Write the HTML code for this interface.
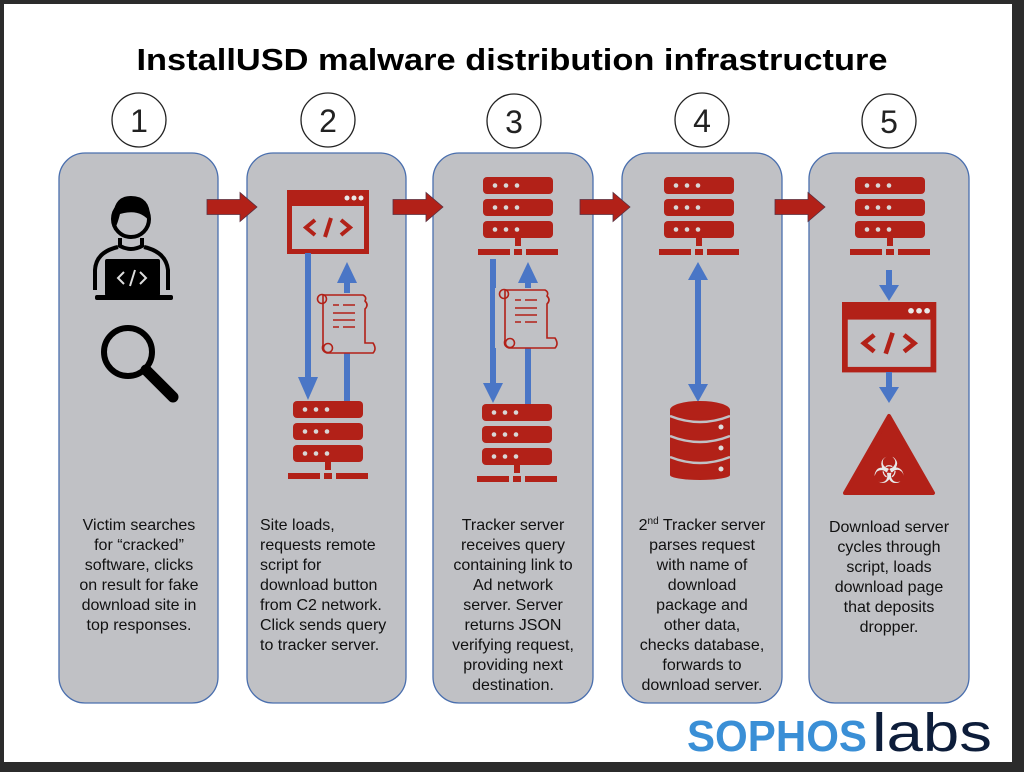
<!DOCTYPE html>
<html><head><meta charset="utf-8"><style>
html,body{margin:0;padding:0;background:#2b2b2b}
svg{display:block}
text{font-family:"Liberation Sans",sans-serif}
</style></head><body>
<svg width="1024" height="772" viewBox="0 0 1024 772" xmlns="http://www.w3.org/2000/svg">
<defs>
<g id="srv">
  <rect x="5" y="0" width="70" height="17" rx="4" fill="#b22118"/>
  <rect x="5" y="22" width="70" height="17" rx="4" fill="#b22118"/>
  <rect x="5" y="44" width="70" height="17" rx="4" fill="#b22118"/>
  <g fill="#d8d8d8"><circle cx="17" cy="8.5" r="2.3"/><circle cx="28" cy="8.5" r="2.3"/><circle cx="39" cy="8.5" r="2.3"/>
  <circle cx="17" cy="30.5" r="2.3"/><circle cx="28" cy="30.5" r="2.3"/><circle cx="39" cy="30.5" r="2.3"/>
  <circle cx="17" cy="52.5" r="2.3"/><circle cx="28" cy="52.5" r="2.3"/><circle cx="39" cy="52.5" r="2.3"/></g>
  <rect x="37" y="61" width="6" height="8" fill="#b22118"/>
  <rect x="0" y="72" width="32" height="6" fill="#b22118"/>
  <rect x="36" y="72" width="8" height="6" fill="#b22118"/>
  <rect x="48" y="72" width="32" height="6" fill="#b22118"/>
</g>
<g id="brw">
  <rect x="0" y="0" width="82" height="64" fill="#b22118"/>
  <rect x="5" y="16" width="72" height="43" fill="#c0c1c5"/>
  <g fill="#e8e8e8"><circle cx="60" cy="8" r="2.5"/><circle cx="67" cy="8" r="2.5"/><circle cx="74" cy="8" r="2.5"/></g>
  <g stroke="#b22118" stroke-width="4" fill="none"><polyline points="28,30 19,37.5 28,45"/><polyline points="54,30 63,37.5 54,45"/><line x1="44" y1="28" x2="38" y2="47"/></g>
</g>
<g id="scr" fill="none" stroke="#b22118" stroke-width="1.6">
  <path d="M8,2 H48 Q52,4 50,8 Q54,12 50,16 V50 H58 Q62,56 58,60 H12 Q6,58 8,52 Z"/>
  <circle cx="7" cy="6" r="4.5"/>
  <circle cx="13" cy="55" r="4.5"/>
  <path d="M18,12 H24 M28,12 H40 M18,20 H40 M18,27 H40 M18,34 H24 M28,34 H40"/>
</g>
<g id="arr">
  <path d="M0,-7.5 H33 V-14.5 L50,0 L33,14.5 V7.5 H0 Z" fill="#b22118" stroke="#5a3040" stroke-width="0.8"/>
</g>
</defs>
<rect x="4" y="4" width="1008" height="758" fill="#ffffff"/>
<text x="512" y="70" text-anchor="middle" font-size="31" font-weight="bold" textLength="751" lengthAdjust="spacingAndGlyphs" fill="#000">InstallUSD malware distribution infrastructure</text>
<g fill="none" stroke="#222" stroke-width="1.3">
  <circle cx="139" cy="120" r="27"/><circle cx="328" cy="120" r="27"/><circle cx="514" cy="121" r="27"/><circle cx="702" cy="120" r="27"/><circle cx="889" cy="121" r="27"/>
</g>
<g font-size="32" fill="#222" text-anchor="middle">
<text x="139" y="132">1</text><text x="328" y="132">2</text><text x="514" y="133">3</text><text x="702" y="132">4</text><text x="889" y="133">5</text>
</g>
<g fill="#c0c1c5" stroke="#4a6fae" stroke-width="1.3">
  <rect x="59" y="153" width="159" height="550" rx="26"/>
  <rect x="247" y="153" width="159" height="550" rx="26"/>
  <rect x="433" y="153" width="160" height="550" rx="26"/>
  <rect x="622" y="153" width="160" height="550" rx="26"/>
  <rect x="809" y="153" width="160" height="550" rx="26"/>
</g>
<use href="#arr" x="207" y="207"/><use href="#arr" x="393" y="207"/><use href="#arr" x="580" y="207"/><use href="#arr" x="775" y="207"/>

<!-- panel 1 -->
<path d="M113,222 Q112,196 131,196 Q152,196 150,222 Q140,208 120,214 Q117,226 114,230 Z" fill="#000"/>
<circle cx="131" cy="219" r="18" fill="none" stroke="#000" stroke-width="4"/>
<path d="M120,238 V246 Q131,252 142,246 V238" fill="none" stroke="#000" stroke-width="4"/>
<path d="M95,290 V270 Q96,252 118,247 M144,247 Q166,252 168,270 V290" fill="none" stroke="#000" stroke-width="4"/>
<rect x="105" y="259" width="55" height="37" rx="2" fill="#000"/>
<rect x="95" y="295" width="78" height="5" rx="2" fill="#000"/>
<g stroke="#ddd" stroke-width="2" fill="none"><polyline points="124,272 118,278 124,284"/><polyline points="140,272 146,278 140,284"/><line x1="135" y1="270" x2="130" y2="286"/></g>
<circle cx="128" cy="352" r="24" fill="none" stroke="#000" stroke-width="6"/>
<line x1="146" y1="370" x2="173" y2="397" stroke="#000" stroke-width="11" stroke-linecap="round"/>

<!-- panel 2 -->
<use href="#brw" x="287" y="190"/>
<rect x="305" y="253" width="6" height="125" fill="#4a76c6"/>
<path d="M298,377 H318 L308,400 Z" fill="#4a76c6"/>
<rect x="344" y="282" width="6" height="122" fill="#4a76c6"/>
<path d="M337,283 H357 L347,262 Z" fill="#4a76c6"/>
<rect x="313" y="293" width="62" height="60" fill="#c0c1c5"/>
<use href="#scr" x="315" y="293"/>
<use href="#srv" x="288" y="401"/>

<!-- panel 3 -->
<use href="#srv" x="478" y="177"/>
<rect x="490" y="259" width="6" height="125" fill="#4a76c6"/>
<path d="M483,383 H503 L493,403 Z" fill="#4a76c6"/>
<rect x="525" y="282" width="6" height="122" fill="#4a76c6"/>
<path d="M518,283 H538 L528,262 Z" fill="#4a76c6"/>
<rect x="495" y="288" width="62" height="60" fill="#c0c1c5"/>
<use href="#scr" x="497" y="288"/>
<use href="#srv" x="477" y="404"/>

<!-- panel 4 -->
<use href="#srv" x="659" y="177"/>
<rect x="695" y="278" width="6" height="108" fill="#4a76c6"/>
<path d="M688,280 H708 L698,262 Z" fill="#4a76c6"/>
<path d="M688,384 H708 L698,402 Z" fill="#4a76c6"/>
<rect x="670" y="410" width="60" height="65" fill="#b22118"/>
<ellipse cx="700" cy="410" rx="30" ry="9" fill="#b22118"/>
<ellipse cx="700" cy="475" rx="30" ry="5" fill="#b22118"/>
<g fill="none" stroke="#c0c1c5" stroke-width="2.5"><path d="M670,416 Q700,428 730,416"/><path d="M670,436 Q700,448 730,436"/><path d="M670,457 Q700,469 730,457"/></g>
<g fill="#ddd"><circle cx="721" cy="427" r="2.5"/><circle cx="721" cy="448" r="2.5"/><circle cx="721" cy="469" r="2.5"/></g>

<!-- panel 5 -->
<use href="#srv" x="850" y="177"/>
<rect x="886" y="270" width="6" height="16" fill="#4a76c6"/>
<path d="M879,285 H899 L889,301 Z" fill="#4a76c6"/>
<g transform="translate(842,302) scale(1.15,1.1)"><use href="#brw"/></g>
<rect x="886" y="372" width="6" height="16" fill="#4a76c6"/>
<path d="M879,387 H899 L889,403 Z" fill="#4a76c6"/>
<path d="M889,416 L933,493 H845 Z" fill="#b22118" stroke="#b22118" stroke-width="4" stroke-linejoin="round"/>
<text x="889" y="483" text-anchor="middle" font-size="36" fill="#e8e8e8" font-family="DejaVu Sans">☣</text>

<!-- texts -->
<g font-size="16" fill="#111" text-anchor="middle">
<text x="139" y="530">Victim searches</text><text x="139" y="550">for “cracked”</text><text x="139" y="570">software, clicks</text><text x="139" y="590">on result for fake</text><text x="139" y="610">download site in</text><text x="139" y="630">top responses.</text>
<text x="513" y="530">Tracker server</text><text x="513" y="550">receives query</text><text x="513" y="570">containing link to</text><text x="513" y="590">Ad network</text><text x="513" y="610">server. Server</text><text x="513" y="630">returns JSON</text><text x="513" y="650">verifying request,</text><text x="513" y="670">providing next</text><text x="513" y="690">destination.</text>
<text x="702" y="530">2<tspan font-size="10" dy="-6">nd</tspan><tspan dy="6"> Tracker server</tspan></text><text x="702" y="550">parses request</text><text x="702" y="570">with name of</text><text x="702" y="590">download</text><text x="702" y="610">package and</text><text x="702" y="630">other data,</text><text x="702" y="650">checks database,</text><text x="702" y="670">forwards to</text><text x="702" y="690">download server.</text>
<text x="889" y="532">Download server</text><text x="889" y="552">cycles through</text><text x="889" y="572">script, loads</text><text x="889" y="592">download page</text><text x="889" y="612">that deposits</text><text x="889" y="632">dropper.</text>
</g>
<g font-size="16" fill="#111">
<text x="260" y="530">Site loads,</text><text x="260" y="550">requests remote</text><text x="260" y="570">script for</text><text x="260" y="590">download button</text><text x="260" y="610">from C2 network.</text><text x="260" y="630">Click sends query</text><text x="260" y="650">to tracker server.</text>
</g>
<text x="687" y="751" font-size="44" font-weight="bold" fill="#3a8fd6" textLength="180" lengthAdjust="spacingAndGlyphs">SOPHOS</text>
<text x="872" y="751" font-size="54" fill="#0d1d3a" textLength="120" lengthAdjust="spacingAndGlyphs">labs</text>
</svg>
</body></html>
